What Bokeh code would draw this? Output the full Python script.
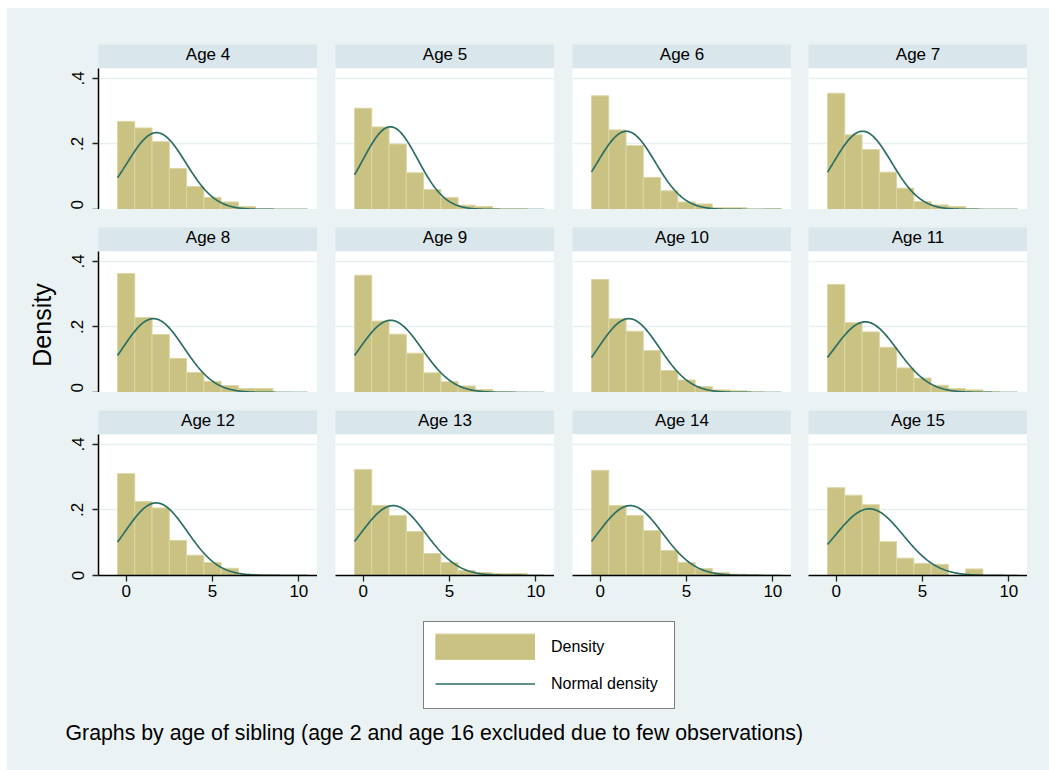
import numpy as np
from bokeh.plotting import figure
from bokeh.models import (Range1d, LinearAxis, FixedTicker, Grid, Legend, LegendItem,
                          Spacer)
from bokeh.layouts import row, column
from bokeh.core.properties import value
from bokeh.embed import file_html
from bokeh.resources import INLINE

# ---------------- data ----------------
ages = [4, 5, 6, 7, 8, 9, 10, 11, 12, 13, 14, 15]
bins = [0, 1, 2, 3, 4, 5, 6, 7, 8, 9, 10]

density_age4 = [0.269, 0.249, 0.207, 0.125, 0.070, 0.037, 0.023, 0.009, 0.002, 0.001, 0.001]
density_age5 = [0.309, 0.252, 0.200, 0.112, 0.061, 0.037, 0.013, 0.009, 0.002, 0.002, 0.000]
density_age6 = [0.347, 0.243, 0.195, 0.098, 0.057, 0.023, 0.017, 0.005, 0.005, 0.001, 0.002]
density_age7 = [0.355, 0.228, 0.183, 0.114, 0.065, 0.024, 0.014, 0.009, 0.002, 0.001, 0.001]
density_age8 = [0.363, 0.229, 0.177, 0.104, 0.061, 0.034, 0.021, 0.012, 0.012, 0.001, 0.000]
density_age9 = [0.358, 0.218, 0.178, 0.120, 0.060, 0.033, 0.020, 0.009, 0.002, 0.001, 0.000]
density_age10 = [0.345, 0.225, 0.187, 0.128, 0.067, 0.038, 0.018, 0.008, 0.005, 0.002, 0.000]
density_age11 = [0.330, 0.213, 0.185, 0.138, 0.075, 0.044, 0.022, 0.012, 0.008, 0.002, 0.000]
density_age12 = [0.311, 0.226, 0.206, 0.107, 0.062, 0.040, 0.022, 0.004, 0.002, 0.001, 0.001]
density_age13 = [0.324, 0.214, 0.183, 0.134, 0.067, 0.040, 0.015, 0.009, 0.006, 0.006, 0.000]
density_age14 = [0.321, 0.214, 0.183, 0.137, 0.076, 0.040, 0.021, 0.009, 0.004, 0.002, 0.000]
density_age15 = [0.268, 0.245, 0.216, 0.103, 0.053, 0.037, 0.034, 0.000, 0.020, 0.000, 0.000]

# normal-density overlay parameters (mean, sd) per age panel
normal_means = [1.76, 1.58, 1.52, 1.53, 1.58, 1.59, 1.66, 1.69, 1.74, 1.74, 1.74, 1.92]
normal_sds = [1.70, 1.58, 1.67, 1.67, 1.77, 1.81, 1.77, 1.85, 1.80, 1.87, 1.87, 1.96]

y_ticks = [0, 0.2, 0.4]
y_tick_labels = ["0", ".2", ".4"]
x_ticks = [0, 5, 10]
x_tick_labels = ["0", "5", "10"]

densities = [density_age4, density_age5, density_age6, density_age7, density_age8,
             density_age9, density_age10, density_age11, density_age12, density_age13,
             density_age14, density_age15]

# ---------------- style ----------------
FONT = "Liberation Sans"
BG = "#eaf2f3"
STRIP = "#d9e6eb"
BAR = "#c9c283"
BAR_LINE = "#dbd6a3"
LINE = "#2b6e64"
GRID = "#e7eff1"

PW, PH = 219, 141        # plot frame size
STRIP_H = 24
LEFT_B = 38
BOTTOM_B = 30
GAPS = [18, 18, 17]
TOTAL_W = 1042


def base_fig(w, h, xr, yr, **kw):
    return figure(width=w, height=h, x_range=xr, y_range=yr, x_axis_type=None,
                  y_axis_type=None, output_backend="svg", toolbar_location=None,
                  min_border_left=kw.get("left", 0), min_border_right=0,
                  min_border_top=0, min_border_bottom=kw.get("bottom", 0),
                  outline_line_color=None, border_fill_color=BG,
                  background_fill_color=kw.get("fill", BG))


def strip_fig(age, ci):
    left = LEFT_B if ci == 0 else 0
    p = base_fig(PW + left, STRIP_H, Range1d(0, 1), Range1d(0, 1), left=left, fill=STRIP)
    p.text(x=[0.5], y=[0.58], text=["Age %d" % age], text_font=value(FONT),
           text_font_size="17px", text_align="center", text_baseline="middle",
           text_color="black")
    return p


def panel_fig(k, ri, ci):
    left = LEFT_B if ci == 0 else 0
    bottom = BOTTOM_B if ri == 2 else 0
    p = base_fig(PW + left, PH + bottom, Range1d(-1.6, 11.08), Range1d(0, 0.4305),
                 left=left, bottom=bottom, fill="white")
    p.add_layout(Grid(dimension=1, ticker=FixedTicker(ticks=y_ticks[1:]),
                      grid_line_color=GRID, grid_line_width=1.6))
    p.vbar(x=bins, top=densities[k], width=1.0, bottom=0, fill_color=BAR,
           line_color=BAR_LINE, line_width=1)
    xs = np.linspace(bins[0] - 0.5, bins[-1] + 0.5, 300)
    m, s = normal_means[k], normal_sds[k]
    ys = np.exp(-0.5 * ((xs - m) / s) ** 2) / (s * np.sqrt(2 * np.pi))
    p.line(xs, ys, line_color=LINE, line_width=1.7)
    if ci == 0:
        ax = LinearAxis(ticker=FixedTicker(ticks=y_ticks),
                        major_label_overrides={t: l for t, l in zip(y_ticks, y_tick_labels)},
                        major_label_orientation="parallel",
                        major_label_text_font=FONT, major_label_text_font_size="17px",
                        major_label_text_color="black", major_label_standoff=9,
                        axis_line_color="black", axis_line_width=1.5,
                        major_tick_line_color="#222222", major_tick_line_width=1.3,
                        major_tick_in=0, major_tick_out=6, minor_tick_line_color=None)
        p.add_layout(ax, "left")
    if ri == 2:
        ax = LinearAxis(ticker=FixedTicker(ticks=x_ticks),
                        major_label_overrides={t: l for t, l in zip(x_ticks, x_tick_labels)},
                        major_label_text_font=FONT, major_label_text_font_size="17px",
                        major_label_text_color="black", major_label_standoff=3,
                        axis_line_color="black", axis_line_width=1.5,
                        major_tick_line_color="#222222", major_tick_line_width=1.3,
                        major_tick_in=0, major_tick_out=6, minor_tick_line_color=None)
        p.add_layout(ax, "below")
    return p


grid_children = []
for ri in range(3):
    strips, panels = [], []
    for ci in range(4):
        k = ri * 4 + ci
        if ci > 0:
            strips.append(Spacer(width=GAPS[ci - 1], height=STRIP_H))
            panels.append(Spacer(width=GAPS[ci - 1], height=PH + (BOTTOM_B if ri == 2 else 0)))
        strips.append(strip_fig(ages[k], ci))
        panels.append(panel_fig(k, ri, ci))
    grid_children.append(row(strips))
    grid_children.append(row(panels))
    if ri < 2:
        grid_children.append(Spacer(width=10, height=18))
grid_col = column(grid_children)

GRID_H = 3 * (STRIP_H + PH) + 2 * 18 + BOTTOM_B

# y-axis title
lab = base_fig(53, GRID_H, Range1d(0, 1), Range1d(0, 1))
lab.text(x=[0.66], y=[0.5], text=["Density"], angle=np.pi / 2, text_font=value(FONT),
         text_font_size="25px", text_align="center", text_baseline="middle",
         text_color="black")

# legend (sample renderers kept outside the visible range of this small figure)
leg = base_fig(256, 92, Range1d(100, 101), Range1d(100, 101))
r_bar_edge = leg.line(x=bins, y=density_age4, line_color=BAR_LINE, line_width=27)
r_bar = leg.line(x=bins, y=density_age4, line_color=BAR, line_width=25)
r_line = leg.line(x=bins, y=density_age4, line_color=LINE, line_width=1.7)
legend = Legend(items=[LegendItem(label="Density", renderers=[r_bar_edge, r_bar]),
                       LegendItem(label="Normal density", renderers=[r_line])],
                location=(3, 3), margin=0, padding=11, spacing=10,
                glyph_width=100, glyph_height=27, label_standoff=16, label_width=112,
                label_text_font=FONT, label_text_font_size="16px",
                label_text_color="black",
                border_line_color="black", border_line_width=1.5,
                background_fill_color="white", background_fill_alpha=1.0)
leg.add_layout(legend)

# note
note = base_fig(TOTAL_W, 40, Range1d(0, TOTAL_W), Range1d(0, 40))
note.text(x=[58], y=[20], text=["Graphs by age of sibling (age 2 and age 16 excluded due to few observations)"],
          text_font=value(FONT), text_font_size="21.3px", text_align="left",
          text_baseline="middle", text_color="black")

inner = column([
    Spacer(width=TOTAL_W, height=36),
    row([lab, grid_col, Spacer(width=22, height=GRID_H)]),
    Spacer(width=TOTAL_W, height=15),
    row([Spacer(width=413, height=92), leg]),
    note,
    Spacer(width=TOTAL_W, height=18),
], styles={"background-color": BG})

root = row([Spacer(width=7, height=770),
            column([Spacer(width=TOTAL_W, height=8), inner])])

open("out.html", "w").write(file_html(root, INLINE))
